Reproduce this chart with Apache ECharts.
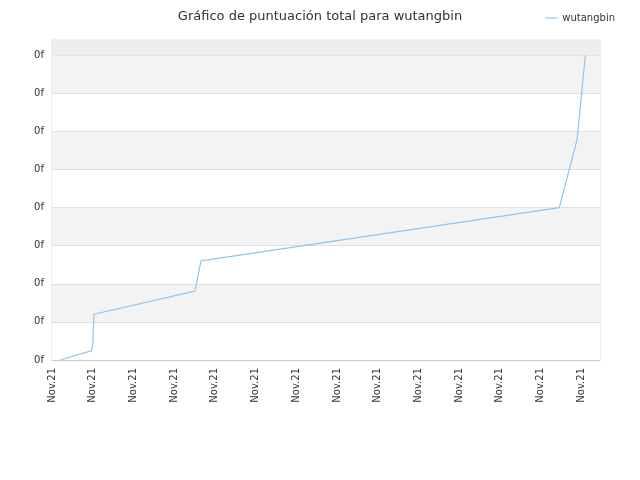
<!DOCTYPE html>
<html><head><meta charset="utf-8">
<script src="https://cdn.jsdelivr.net/npm/echarts@6/dist/echarts.min.js"></script>
<style>html,body{margin:0;padding:0;background:#fff}#c{width:640px;height:480px}</style>
</head><body><div id="c"></div>
<script>
const seriesName = 'wutangbin';
const xValues = [0.2, 0.96, 1.0, 1.03, 3.51, 3.66, 12.46, 12.9, 13.1];
const yValues = [0, 0.24, 0.39, 1.2, 1.81, 2.6, 4.0, 5.8, 8.0];
const xTickLabel = 'Nov.21';
const yTickLabel = '0f';
const chart = echarts.init(document.getElementById('c'));
chart.setOption({
  animation: false,
  title: {text: 'Gráfico de puntuación total para wutangbin', left: 'center', top: 5,
    textStyle: {fontSize: 13, fontWeight: 'normal', color: '#333', fontFamily: 'DejaVu Sans'}},
  legend: {right: 20, top: 8, icon: 'path://M0,4L20,4L20,6L0,6Z', itemWidth: 12, itemHeight: 4,
    textStyle: {fontSize: 10, color: '#333', fontFamily: 'DejaVu Sans'}, data: [seriesName]},
  grid: {left: 52, right: 40, top: 40, bottom: 120, containLabel: false, show: true, borderColor: '#e0e0e0', borderWidth: 1},
  xAxis: {type: 'value', min: 0, max: 13.46, interval: 1,
    axisLine: {lineStyle: {color: '#ccc'}}, axisTick: {show: false}, splitLine: {show: false},
    axisLabel: {rotate: 90, color: '#333', fontSize: 10, fontFamily: 'DejaVu Sans', formatter: () => xTickLabel, showMaxLabel: false}},
  yAxis: {type: 'value', min: 0, max: 8.4, interval: 1,
    axisLine: {show: false}, axisTick: {show: false},
    splitLine: {lineStyle: {color: '#e0e0e0'}},
    splitArea: {show: true, areaStyle: {color: ['#ffffff', '#f3f3f3']}},
    axisLabel: {color: '#333', fontSize: 10, fontFamily: 'DejaVu Sans', formatter: v => v > 8 ? '' : yTickLabel, showMaxLabel: false}},
  series: [{name: seriesName, type: 'line', symbol: 'none',
    lineStyle: {color: '#90c4f0', width: 1.2}, itemStyle: {color: '#90c4f0'},
    data: xValues.map((x, i) => [x, yValues[i]]),
    markArea: {silent: true, itemStyle: {color: '#eeeeee'}, data: [[{yAxis: 8}, {yAxis: 8.4}]]}}]
});
</script></body></html>
